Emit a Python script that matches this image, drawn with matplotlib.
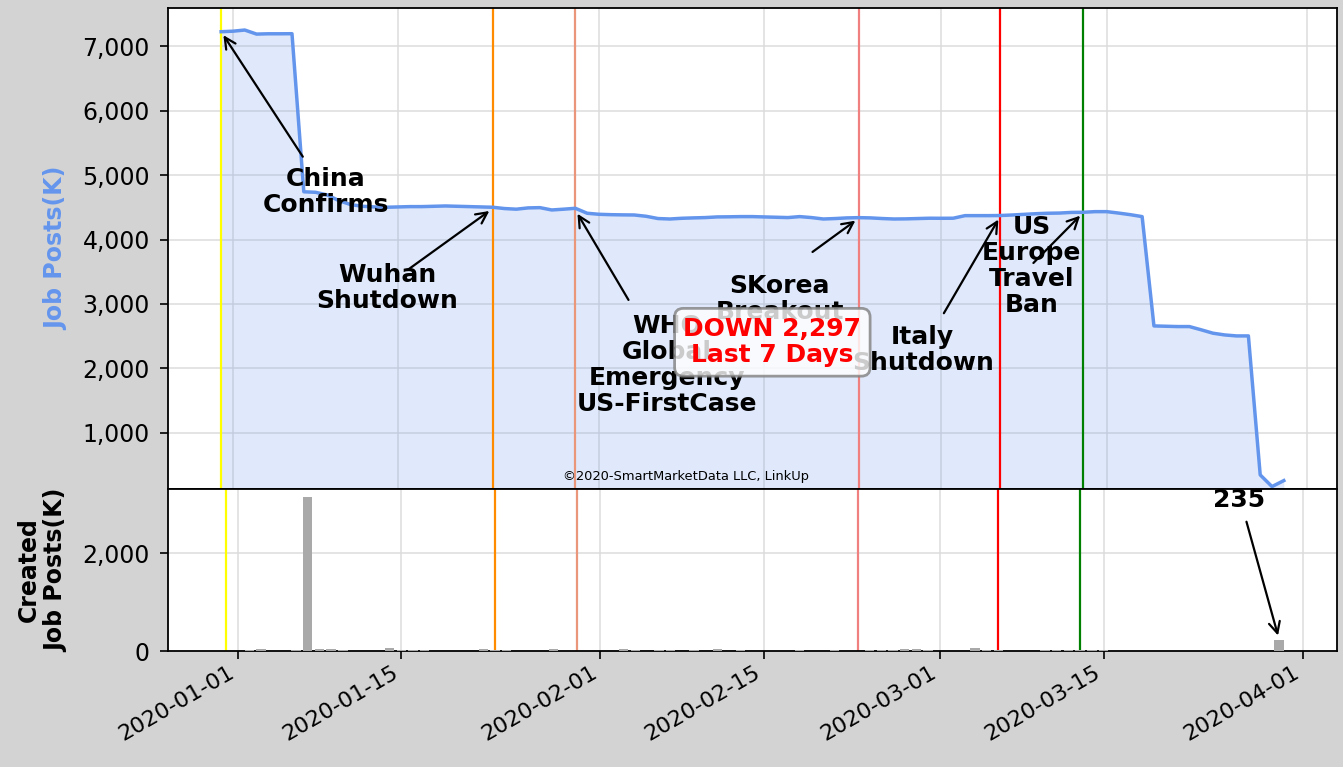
import matplotlib
matplotlib.use("Agg")
import matplotlib.pyplot as plt
import matplotlib.dates as mdates
import matplotlib.ticker as mticker
import pandas as pd
import numpy as np

# ---------------- data ----------------
start_date = "2019-12-31"
end_date = "2020-03-30"

job_posts = [
    7222, 7230, 7248, 7185, 7190, 7190, 7191,            # Dec31 - Jan6
    4740, 4732, 4690, 4600, 4540, 4515, 4505,            # Jan7 - Jan13
    4500, 4505, 4510, 4510, 4515, 4520, 4515,            # Jan14 - Jan20
    4510, 4505, 4500, 4480, 4470, 4490, 4494,            # Jan21 - Jan27
    4458, 4470, 4484, 4407, 4391, 4385, 4382,            # Jan28 - Feb3
    4380, 4360, 4325, 4318, 4329, 4335, 4340,            # Feb4 - Feb10
    4350, 4352, 4355, 4355, 4350, 4345, 4340,            # Feb11 - Feb17
    4355, 4340, 4318, 4325, 4335, 4339, 4335,            # Feb18 - Feb24
    4325, 4318, 4320, 4325, 4330, 4329, 4330,            # Feb25 - Mar2
    4370, 4370, 4370, 4372, 4380, 4390, 4400,            # Mar3 - Mar9
    4407, 4410, 4420, 4422, 4432, 4432, 4410,            # Mar10 - Mar16
    4385, 4355, 2660, 2655, 2650, 2650, 2600,            # Mar17 - Mar23
    2547, 2520, 2505, 2505, 350, 169, 262,               # Mar24 - Mar30
]

created_posts = [
    0, 0, 15, 40, 0, 0, 15,                              # Dec31 - Jan6
    3155, 40, 40, 15, 0, 0, 0,                           # Jan7 - Jan13
    60, 30, 30, 30, 10, 0, 10,                           # Jan14 - Jan20
    10, 35, 20, 15, 0, 0, 0,                             # Jan21 - Jan27
    35, 0, 10, 0, 0, 0, 35,                              # Jan28 - Feb3
    30, 0, 30, 30, 0, 15, 0,                             # Feb4 - Feb10
    35, 0, 20, 0, 0, 0, 0,                               # Feb11 - Feb17
    30, 10, 0, 15, 0, 0, 15,                             # Feb18 - Feb24
    30, 20, 35, 35, 15, 0, 0,                            # Feb25 - Mar2
    0, 60, 20, 15, 0, 0, 0,                              # Mar3 - Mar9
    15, 30, 30, 30, 20, 30, 0,                           # Mar10 - Mar16
    0, 0, 0, 0, 0, 0, 0,                                 # Mar17 - Mar23
    0, 0, 0, 0, 0, 0, 235,                               # Mar24 - Mar30
]

event_dates = ["2019-12-31", "2020-01-23", "2020-01-30", "2020-02-23", "2020-03-06", "2020-03-13"]
event_colors = ["yellow", "darkorange", "darksalmon", "lightcoral", "red", "green"]

# annotation: label, target date, target value, tail date, tail value, text date, text value
annotations = [
    ("China\nConfirms", "2019-12-31", 7222, "2020-01-06 22:00", 5284, "2020-01-08 21:00", 4737),
    ("Wuhan\nShutdown", "2020-01-23", 4480, "2020-01-15 19:00", 3528, "2020-01-14 02:00", 3249),
    ("WHO\nGlobal\nEmergency\nUS-FirstCase", "2020-01-30", 4455, "2020-02-03 12:00", 3063, "2020-02-06 18:00", 2055),
    ("SKorea\nBreakout", "2020-02-23", 4330, "2020-02-19 02:00", 3807, "2020-02-16 07:00", 3078),
    ("Italy\nShutdown", "2020-03-06", 4365, "2020-03-01 05:00", 2857, "2020-02-28 10:00", 2288),
    ("US\nEurope\nTravel\nBan", "2020-03-13", 4415, "2020-03-08 19:00", 3636, "2020-03-08 16:00", 3590),
]
last_label = "235"
summary_text = "DOWN 2,297\nLast 7 Days"
credit_text = "\u00a92020-SmartMarketData LLC, LinkUp"

dates = pd.date_range(start_date, end_date, freq="D")

# ---------------- figure ----------------
fig = plt.figure(figsize=(13.43, 7.67), dpi=100, facecolor="lightgray")
ax1 = fig.add_axes([0.1251, 0.3625, 0.8704, 0.6271])
ax2 = fig.add_axes([0.1251, 0.1512, 0.8704, 0.2113])

line_color = "cornflowerblue"
ax1.plot(dates, job_posts, color=line_color, lw=2.5, zorder=3)
ax1.fill_between(dates, job_posts, 0, color=line_color, alpha=0.2, lw=0, zorder=2)
ax1.set_ylim(132, 7590)

ax2.bar(dates, created_posts, color="darkgray", width=0.8, zorder=3)
ax2.yaxis.set_major_locator(mticker.MultipleLocator(2000))

for d, c in zip(event_dates, event_colors):
    ax1.axvline(pd.Timestamp(d), color=c, lw=1.6, zorder=2.5)
    ax2.axvline(pd.Timestamp(d), color=c, lw=1.6, zorder=2.5)

fmt = mticker.FuncFormatter(lambda v, p: f"{v:,.0f}")
for ax in (ax1, ax2):
    ax.xaxis.set_major_locator(mdates.DayLocator(bymonthday=[1, 15]))
    ax.xaxis.set_major_formatter(mdates.DateFormatter("%Y-%m-%d"))
    ax.yaxis.set_major_formatter(fmt)
    ax.grid(True, color="#dcdcdc", lw=1.1, zorder=0)
    ax.set_axisbelow(True)
    ax.set_facecolor("white")
    for s in ax.spines.values():
        s.set_linewidth(1.3)
        s.set_color("black")
    ax.tick_params(axis="y", labelsize=17, length=6, width=1.2, pad=7)

ax1.tick_params(axis="x", length=0, labelbottom=False)
ax2.tick_params(axis="x", labelsize=16, length=6, width=1.2, pad=2)
for lbl in ax2.get_xticklabels():
    lbl.set_rotation(30)
    lbl.set_ha("right")

ax1.set_ylabel("Job Posts(K)", color=line_color, fontsize=17, fontweight="bold", labelpad=10)
ax2.set_ylabel("Created\nJob Posts(K)", color="black", fontsize=17, fontweight="bold", labelpad=10)

ann_size = 18
arrow_kw = dict(arrowstyle="->", color="black", lw=1.6, shrinkA=0, shrinkB=3, mutation_scale=20)
for label, td, tv, ad, av, xd, xv in annotations:
    ax1.annotate("", xy=(pd.Timestamp(td), tv), xytext=(pd.Timestamp(ad), av),
                 arrowprops=arrow_kw, zorder=5)
    ax1.text(pd.Timestamp(xd), xv, label, fontsize=ann_size, fontweight="bold",
             ha="center", va="center", linespacing=1.12, zorder=6)

ax2.annotate("", xy=(dates[-1], created_posts[-1]), xytext=(pd.Timestamp("2020-03-27 05:00"), 2643),
             arrowprops=arrow_kw, zorder=5)
ax2.text(pd.Timestamp("2020-03-26 14:00"), 3090, last_label, fontsize=ann_size, fontweight="bold",
         ha="center", va="center", zorder=6)

ax1.text(0.517, 0.305, summary_text, transform=ax1.transAxes, color="red", fontsize=ann_size,
         fontweight="bold", ha="center", va="center", linespacing=1.12, zorder=10,
         bbox=dict(boxstyle="round,pad=0.35", facecolor="white", alpha=0.8,
                   edgecolor="gray", lw=2))

ax1.text(0.443, 0.025, credit_text, transform=ax1.transAxes, fontsize=9.4,
         ha="center", va="center", zorder=6)

fig.savefig("out.png", dpi=100, facecolor=fig.get_facecolor())
